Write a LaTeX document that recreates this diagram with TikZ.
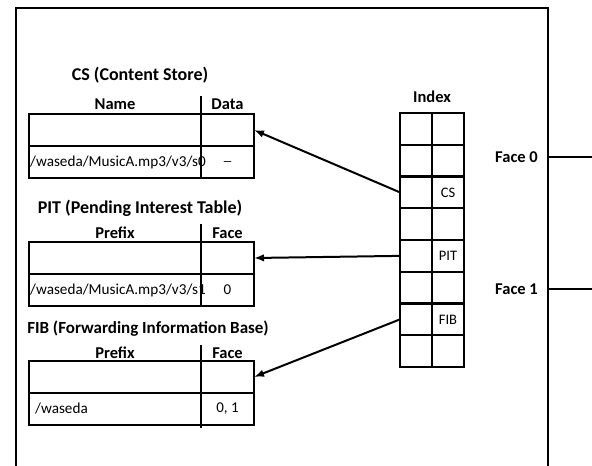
\documentclass[tikz,border=0pt]{standalone}
\usepackage{fontspec}
\setmainfont{Carlito}
\usetikzlibrary{arrows.meta,positioning}

\begin{document}
\begin{tikzpicture}[x=1pt,y=-1pt,
  cell/.style={draw,line width=2.2pt,outer sep=0pt,minimum height=32pt,inner sep=0pt},
  namecell/.style={cell,minimum width=172pt},
  valcell/.style={cell,minimum width=53pt,font=\fontsize{15}{17}\selectfont},
  idxcell/.style={cell,minimum width=32pt,minimum height=31.75pt,font=\fontsize{14.5}{16}\selectfont},
  entry/.style={inner sep=1pt,font=\fontsize{15.2}{17}\selectfont},
  title/.style={font=\bfseries\fontsize{18}{20}\selectfont},
  head/.style={inner sep=1pt,font=\bfseries\fontsize{16.5}{18}\selectfont},
  sep/.style={line width=2.2pt},
  arr/.style={-{Latex[length=10pt,width=7.5pt]},line width=2pt}]
\useasboundingbox (0,0) rectangle (592,466);

% router frame and faces
\draw[line width=2pt] (16,466) -- (16,8) -- (548,8) -- (548,466);
\coordinate (f0) at (548,157);
\coordinate (f0end) at (592,157);
\coordinate (f1) at (548,289);
\coordinate (f1end) at (592,289);
\draw[line width=2pt] (f0) -- (f0end);
\draw[line width=2pt] (f1) -- (f1end);
\node[head,left=9pt of f0] (face0) {Face 0};
\node[head,left=9pt of f1] (face1) {Face 1};

% CS
\node[title] (cs) at (140,75) {CS (Content Store)};
\node[namecell,anchor=north west] (cs-n1) at (29,114) {};
\node[valcell,right=0pt of cs-n1] (cs-v1) {};
\node[namecell,below=0pt of cs-n1] (cs-n2) {};
\node[valcell,right=0pt of cs-n2] (cs-v2) {\_};
\node[entry,right=0pt of cs-n2.west] (cs-e2) {/waseda/MusicA.mp3/v3/s0};
\node[head,above=3pt of cs-n1] (cs-h1) {Name};
\node[head,above=3pt of cs-v1] (cs-h2) {Data};
\draw[sep] (cs-v1.north west) -- ++(0,-18);

% PIT
\node[title] (pit) at (140,208) {PIT (Pending Interest Table)};
\node[namecell,anchor=north west] (pit-n1) at (29,242) {};
\node[valcell,right=0pt of pit-n1] (pit-v1) {};
\node[namecell,below=0pt of pit-n1] (pit-n2) {};
\node[valcell,right=0pt of pit-n2] (pit-v2) {0};
\node[entry,right=0pt of pit-n2.west] (pit-e2) {/waseda/MusicA.mp3/v3/s1};
\node[head,above=2pt of pit-n1] (pit-h1) {Prefix};
\node[head,above=2pt of pit-v1] (pit-h2) {Face};
\draw[sep] (pit-v1.north west) -- ++(0,-18);

% FIB
\node[title,font=\bfseries\fontsize{17}{19}\selectfont] (fib) at (148,329) {FIB (Forwarding Information Base)};
\node[namecell,anchor=north west] (fib-n1) at (29,361) {};
\node[valcell,right=0pt of fib-n1] (fib-v1) {};
\node[namecell,below=0pt of fib-n1] (fib-n2) {};
\node[valcell,right=0pt of fib-n2] (fib-v2) {0, 1};
\node[entry,right=5pt of fib-n2.west] (fib-e2) {/waseda};
\node[head,above=1pt of fib-n1] (fib-h1) {Prefix};
\node[head,above=1pt of fib-v1] (fib-h2) {Face};
\draw[sep] ([yshift=16pt]fib-v1.north west) -- ([yshift=-3pt]fib-v2.south west);

% index
\foreach \i/\lab in {1/{},2/{},3/CS,4/{},5/PIT,6/{},7/FIB,8/{}} {
  \node[idxcell,anchor=north west] (il\i) at (400,{113+31.75*(\i-1)}) {};
  \node[idxcell,right=0pt of il\i] (ir\i) {\lab};
}
\node[head,above=9pt of il1.north east] (idx) {Index};

\draw[arr] (il3.west) -- (cs-v1.east);
\draw[arr] (il5.west) -- (pit-v1.east);
\draw[arr] (il7.west) -- (fib-v1.east);
\end{tikzpicture}
\end{document}
